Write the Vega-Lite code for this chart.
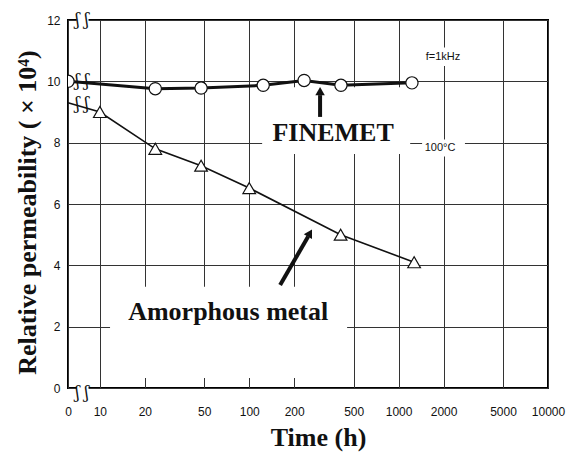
{
  "$schema": "https://vega.github.io/schema/vega-lite/v6.json",
  "width": 480,
  "height": 368,
  "autosize": {"type": "none"},
  "padding": {"left": 68, "top": 20, "right": 26, "bottom": 67},
  "background": "white",
  "config": {
    "view": {"stroke": "black", "strokeWidth": 2},
    "axis": {"gridColor": "#333", "gridWidth": 1, "gridOpacity": 1, "domain": false, "ticks": false, "labelFont": "Liberation Sans", "labelFontSize": 12, "labelColor": "#111", "titleFont": "Liberation Serif", "titleFontWeight": "bold", "titleFontSize": 26, "titleColor": "#111"}
  },
  "datasets": {
    "series": [
      {"series": "FINEMET", "t": 6.12, "v": 10.0, "start": true},
      {"series": "FINEMET", "t": 23.5, "v": 9.76, "start": false},
      {"series": "FINEMET", "t": 47.6, "v": 9.78, "start": false},
      {"series": "FINEMET", "t": 124, "v": 9.87, "start": false},
      {"series": "FINEMET", "t": 233, "v": 10.03, "start": false},
      {"series": "FINEMET", "t": 411, "v": 9.87, "start": false},
      {"series": "FINEMET", "t": 1228, "v": 9.95, "start": false},
      {"series": "Amorphous metal", "t": 6.12, "v": 9.3, "start": true},
      {"series": "Amorphous metal", "t": 10, "v": 9.0, "start": false},
      {"series": "Amorphous metal", "t": 23.5, "v": 7.8, "start": false},
      {"series": "Amorphous metal", "t": 47.6, "v": 7.25, "start": false},
      {"series": "Amorphous metal", "t": 100, "v": 6.52, "start": false},
      {"series": "Amorphous metal", "t": 409, "v": 5.0, "start": false},
      {"series": "Amorphous metal", "t": 1270, "v": 4.1, "start": false}
    ],
    "boxes": [
      {"t1": 122, "t2": 1195, "v1": 7.63, "v2": 9.81},
      {"t1": 11.7, "t2": 452, "v1": 0.33, "v2": 3.3},
      {"t1": 1500, "t2": 2660, "v1": 10.5, "v2": 11.1},
      {"t1": 1436, "t2": 2780, "v1": 7.55, "v2": 8.1},
      {"t1": 7.0, "t2": 8.4, "v1": 11.8, "v2": 12.1},
      {"t1": 7.0, "t2": 8.4, "v1": -0.1, "v2": 0.2}
    ],
    "arrows": [
      {"t1": 298, "v1": 8.84, "t2": 298, "v2": 9.55, "ht": 298, "hv": 9.68, "ang": 0},
      {"t1": 161, "v1": 3.36, "t2": 248, "v2": 4.94, "ht": 255, "hv": 5.05, "ang": 30}
    ],
    "bigtext": [
      {"label": "FINEMET", "t": 364, "v": 8.31},
      {"label": "Amorphous metal", "t": 72.3, "v": 2.48}
    ],
    "smalltext": [
      {"label": "f=1kHz", "t": 1982, "v": 10.79},
      {"label": "100°C", "t": 1893, "v": 7.83}
    ],
    "breaks": [
      {"t": 7.6, "v": 12},
      {"t": 7.6, "v": -0.15},
      {"t": 7.6, "v": 10},
      {"t": 7.6, "v": 9.25}
    ]
  },
  "layer": [
    {
      "data": {"name": "boxes"},
      "mark": {"type": "rect", "fill": "white", "stroke": null, "clip": false},
      "encoding": {
        "x": {"field": "t1", "type": "quantitative", "scale": {"type": "log", "domain": [6.12, 10000], "nice": false},
          "axis": {"values": [6.12, 10, 20, 50, 100, 200, 500, 1000, 2000, 5000, 10000], "labelExpr": "datum.value < 7 ? '0' : datum.label", "format": "d", "labelPadding": 18, "title": "Time (h)", "titleX": 250, "titleY": 49, "titleBaseline": "middle", "titleAnchor": null, "titleAlign": "center", "grid": true, "labelFlush": false, "labelOverlap": false}},
        "x2": {"field": "t2"},
        "y": {"field": "v1", "type": "quantitative", "scale": {"domain": [0, 12], "nice": false},
          "axis": {"values": [0, 2, 4, 6, 8, 10, 12], "labelPadding": 8, "title": "Relative permeability ( × 10⁴)", "titleX": -41, "titleY": 192, "titleAngle": -90, "titleBaseline": "middle", "titleAlign": "center", "grid": true}},
        "y2": {"field": "v2"}
      }
    },
    {
      "data": {"name": "series"},
      "transform": [{"filter": "datum.series == 'FINEMET'"}],
      "mark": {"type": "line", "color": "#111", "strokeWidth": 3},
      "encoding": {
        "x": {"field": "t", "type": "quantitative"},
        "y": {"field": "v", "type": "quantitative"}
      }
    },
    {
      "data": {"name": "series"},
      "transform": [{"filter": "datum.series == 'Amorphous metal'"}],
      "mark": {"type": "line", "color": "#111", "strokeWidth": 1.6},
      "encoding": {
        "x": {"field": "t", "type": "quantitative"},
        "y": {"field": "v", "type": "quantitative"}
      }
    },
    {
      "data": {"name": "series"},
      "transform": [{"filter": "datum.series == 'FINEMET' || !datum.start"}],
      "mark": {"type": "point", "filled": true, "fill": "white", "stroke": "#111", "strokeWidth": 1.2, "opacity": 1, "clip": true},
      "encoding": {
        "x": {"field": "t", "type": "quantitative"},
        "y": {"field": "v", "type": "quantitative"},
        "shape": {"field": "series", "type": "nominal", "scale": {"domain": ["FINEMET", "Amorphous metal"], "range": ["circle", "triangle-up"]}, "legend": null},
        "size": {"field": "series", "type": "nominal", "scale": {"domain": ["FINEMET", "Amorphous metal"], "range": [150, 160]}, "legend": null}
      }
    },
    {
      "data": {"name": "arrows"},
      "mark": {"type": "rule", "color": "#111", "strokeWidth": 4},
      "encoding": {
        "x": {"field": "t1", "type": "quantitative"},
        "y": {"field": "v1", "type": "quantitative"},
        "x2": {"field": "t2"},
        "y2": {"field": "v2"}
      }
    },
    {
      "data": {"name": "arrows"},
      "mark": {"type": "point", "shape": "triangle-up", "filled": true, "color": "#111", "opacity": 1, "size": 90},
      "encoding": {
        "x": {"field": "ht", "type": "quantitative"},
        "y": {"field": "hv", "type": "quantitative"},
        "angle": {"field": "ang", "type": "quantitative", "scale": null}
      }
    },
    {
      "data": {"name": "bigtext"},
      "mark": {"type": "text", "font": "Liberation Serif", "fontWeight": "bold", "fontSize": 26, "color": "#111"},
      "encoding": {
        "x": {"field": "t", "type": "quantitative"},
        "y": {"field": "v", "type": "quantitative"},
        "text": {"field": "label"}
      }
    },
    {
      "data": {"name": "smalltext"},
      "mark": {"type": "text", "font": "Liberation Sans", "fontSize": 11, "color": "#111"},
      "encoding": {
        "x": {"field": "t", "type": "quantitative"},
        "y": {"field": "v", "type": "quantitative"},
        "text": {"field": "label"}
      }
    },
    {
      "data": {"name": "breaks"},
      "mark": {"type": "text", "font": "DejaVu Serif", "fontSize": 16, "color": "#111", "text": "ʃ ʃ", "clip": false},
      "encoding": {
        "x": {"field": "t", "type": "quantitative"},
        "y": {"field": "v", "type": "quantitative"}
      }
    }
  ]
}
